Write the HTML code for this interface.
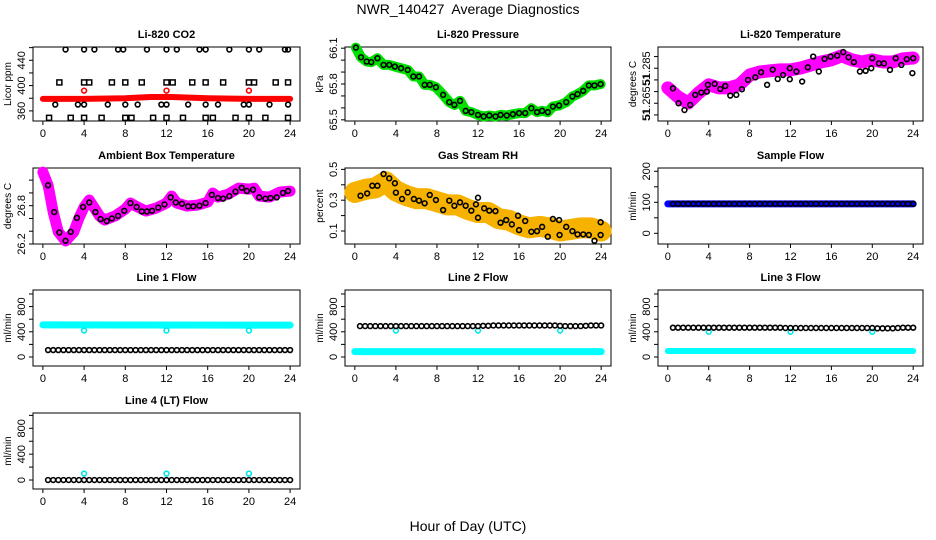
<!DOCTYPE html>
<html><head><meta charset="utf-8">
<style>
html,body{margin:0;padding:0;background:#fff;}
svg{display:block;font-family:"Liberation Sans",sans-serif;}
</style></head>
<body>
<svg id="chart" width="936" height="540" viewBox="0 0 936 540">
<text x="468" y="14" text-anchor="middle" font-size="14">NWR_140427&#160; Average Diagnostics</text>
<text x="468" y="531" text-anchor="middle" font-size="14">Hour of Day (UTC)</text>
</svg>
<script>
// ---- data ----
const xTicks = [0,4,8,12,16,20,24];
const halfHours = [0.5,1,1.5,2,2.5,3,3.5,4,4.5,5,5.5,6,6.5,7,7.5,8,8.5,9,9.5,10,10.5,11,11.5,12,12.5,13,13.5,14,14.5,15,15.5,16,16.5,17,17.5,18,18.5,19,19.5,20,20.5,21,21.5,22,22.5,23,23.5,24];
const calX = [4,12,20];

// CO2
const co2BandX = [0,4,8,10.5,12.5,16,20,24];
const co2BandY = [379,379,380,382,382,380,379,379];
const co2RedX = [4,12,20];
const co2RedY = [392,392,392];
const co2TopX = [2.2,4,5,7.3,7.8,10.1,12,13,15.2,15.8,18.1,20,21,23.5,23.8];
const co2TopY = [457,457,457,457,457,457,457,457,457,457,457,457,457,457,457];
const co2SqX = [1.6,4,4.5,6.7,8,9.6,12,12.6,14.5,15.8,17.5,20,20.5,22.6,23.8];
const co2SqY = [405,405,405,405,405,405,405,405,405,405,405,405,405,405,405];
const co2MidX = [1.2,3.4,4,6.3,8,9.2,11.5,12,14.1,15.8,17,19.5,20,22,23.8];
const co2MidY = [370,370,370,370,370,370,370,370,370,370,370,370,370,370,370];
const co2LowX = [0.6,2.7,4,5.7,8,8.6,10.7,12,13.6,15.8,16.5,18.7,20,21.6,23.8];
const co2LowY = [349,349,349,349,349,349,349,349,349,349,349,349,349,349,349];

// Pressure
const presX = [0.1,0.6,1.15,1.6,2.2,2.8,3.35,3.9,4.5,5.15,5.7,6.25,6.8,7.3,7.9,8.6,9.2,9.7,10.25,10.8,11.35,12,12.55,13.1,13.7,14.2,14.8,15.4,16,16.6,17.2,17.75,18.25,18.8,19.3,19.9,20.6,21.2,21.7,22.25,22.8,23.35,23.95];
const presY = [66.105,66.024,65.988,65.983,66.016,65.96,65.96,65.946,65.932,65.918,65.863,65.863,65.793,65.793,65.773,65.709,65.648,65.625,65.659,65.575,65.564,65.541,65.528,65.536,65.528,65.541,65.536,65.547,65.556,65.556,65.597,65.564,65.575,65.564,65.611,65.62,65.648,65.695,65.715,65.743,65.788,65.788,65.799];

// Li-820 temperature
const tBandX = [0,1,2,3,4,5,6,7,8,9,10,11,12,13,14,15,16,17,18,19,20,21,22,23,24];
const tBandY = [51.2716,51.2677,51.2651,51.2694,51.2729,51.2716,51.2716,51.2729,51.2771,51.2784,51.2789,51.2793,51.2793,51.2801,51.2814,51.2827,51.2836,51.2853,51.2836,51.2827,51.2836,51.2827,51.2827,51.284,51.2844];
const tPtX = [0.5,1.05,1.63,2.19,2.68,3.27,3.82,3.92,4.58,5.13,5.62,6.11,6.7,7.25,7.84,8.56,9.12,9.71,10.26,10.75,11.27,11.93,11.93,12.58,13.14,13.69,14.22,14.77,15.33,15.92,16.57,17.16,17.68,18.2,18.79,19.35,19.9,20,20.65,21.14,21.73,22.29,22.84,23.37,23.92,24];
const tPtY = [51.2714,51.265,51.2621,51.2643,51.2686,51.2696,51.27,51.2729,51.2733,51.2711,51.2724,51.2683,51.2686,51.271,51.275,51.2761,51.2783,51.2729,51.2794,51.2754,51.2771,51.28,51.2753,51.2786,51.2743,51.2804,51.285,51.2786,51.284,51.285,51.2854,51.2869,51.2847,51.2826,51.2786,51.2789,51.28,51.2843,51.2821,51.2821,51.2793,51.2843,51.2814,51.2839,51.2779,51.2843];

// Ambient box temperature
const aBandX = [0,0.5,1,1.5,2.2,3,3.5,4,4.5,5,5.5,6,7,8,8.5,9,10,11,12,12.5,13,14,15,16,16.5,17,18,19,20,20.5,21,22,23,24];
const aBandY = [27.325,27.122,26.7,26.388,26.247,26.388,26.606,26.778,26.888,26.763,26.638,26.575,26.638,26.747,26.841,26.794,26.716,26.763,26.841,26.95,26.841,26.794,26.809,26.856,26.997,26.934,26.981,27.075,27.059,27.075,26.95,26.934,27.013,27.028];
const aPtX = [0.5,1.1,1.6,2.2,2.7,3.3,3.9,4.5,5.1,5.6,6.2,6.7,7.3,7.9,8.5,9.1,9.6,10.1,10.6,11.2,11.8,12.4,12.9,13.5,14.1,14.6,15.2,15.8,16.4,17,17.5,18.1,18.7,19.3,19.8,20.4,21,21.6,22.1,22.7,23.3,23.8];
const aPtY = [27.12,26.7,26.38,26.25,26.39,26.61,26.78,26.85,26.7,26.59,26.56,26.6,26.64,26.72,26.84,26.78,26.71,26.71,26.72,26.77,26.82,26.93,26.85,26.83,26.79,26.79,26.8,26.84,26.97,26.92,26.91,26.95,27.02,27.08,27.03,27.05,26.93,26.91,26.92,26.93,27.0,27.03];

// Gas stream RH
const rhBandX = [0,1,2,3,4,5,6,7,8,9,10,11,12,13,14,15,16,17,18,19,20,21,22,23,24];
const rhBandY = [0.35,0.37,0.38,0.42,0.36,0.33,0.31,0.31,0.29,0.27,0.27,0.24,0.22,0.22,0.18,0.17,0.14,0.12,0.13,0.12,0.1,0.11,0.12,0.12,0.1];
const rhPtX = [0.55,1.2,1.7,2.2,2.8,3.35,3.9,4,4.6,5.15,5.75,6.25,6.8,7.3,7.9,8.6,9.2,9.7,10.25,10.8,11.35,11.8,12,12,12.6,13.1,13.7,14.2,14.75,15.3,15.9,16,16.6,17.2,17.75,18.25,18.8,19.3,19.9,19.95,20.6,21.2,21.7,22.25,22.8,23.35,23.95,23.95];
const rhPtY = [0.329,0.344,0.394,0.394,0.47,0.442,0.41,0.349,0.308,0.351,0.308,0.297,0.28,0.334,0.301,0.236,0.297,0.264,0.286,0.264,0.232,0.273,0.316,0.186,0.247,0.232,0.229,0.154,0.171,0.143,0.199,0.106,0.165,0.095,0.099,0.127,0.063,0.178,0.171,0.074,0.127,0.099,0.078,0.078,0.074,0.037,0.157,0.074];

// Sample flow
const sfBandX = [0,24];
const sfBandY = [95,95];
const sfPts = [95,95,95,95,95,95,95,95,95,95,95,95,95,95,95,95,95,95,95,95,95,95,95,95,95,95,95,95,95,95,95,95,95,95,95,95,95,95,95,95,95,95,95,95,95,95,95,95];

// Line flows
const l1BandX = [0,24]; const l1BandY = [510,505];
const l1Pts = [110,110,110,110,110,110,110,110,110,110,110,110,110,110,110,110,110,110,110,110,110,110,110,110,110,110,110,110,110,110,110,110,110,110,110,110,110,110,110,110,110,110,110,110,110,110,110,110];
const l1Cal = [420,420,420];
const l2BandX = [0,24]; const l2BandY = [85,85];
const l2Pts = [490,490,490,490,490,490,490,490,490,490,490,490,490,490,490,490,490,490,490,490,490,490,490,490,495,495,500,500,500,500,500,500,500,500,500,500,500,500,500,495,490,490,490,490,495,500,500,500];
const l2Cal = [420,420,420];
const l3BandX = [0,24]; const l3BandY = [95,95];
const l3Pts = [465,465,465,465,465,465,465,465,465,465,465,465,465,465,465,465,465,465,465,465,465,465,460,460,460,460,460,460,460,460,460,460,460,460,460,460,460,460,460,460,455,455,455,455,460,465,465,465];
const l3Cal = [400,400,400];
const l4Pts = [0,0,0,0,0,0,0,0,0,0,0,0,0,0,0,0,0,0,0,0,0,0,0,0,0,0,0,0,0,0,0,0,0,0,0,0,0,0,0,0,0,0,0,0,0,0,0,0];
const l4Cal = [100,100,100];

// ---- rendering ----
const NS = "http://www.w3.org/2000/svg";
const svg = document.getElementById('chart');
function el(tag, attrs, parent){ const e=document.createElementNS(NS,tag); for(const k in attrs) e.setAttribute(k,attrs[k]); (parent||svg).appendChild(e); return e; }

const cols = [{l:33,r:300},{l:345,r:611},{l:658,r:923}];
const rows = [{t:47,b:121},{t:168,b:244},{t:290,b:366},{t:413,b:489}];

function makePanel(o){
  const c=cols[o.col], r=rows[o.row];
  const g=el('g',{});
  
  
  const xs=v=>c.l+(v+0.96)/25.92*(c.r-c.l);
  const ys=v=>r.b-(v-o.ymin)/(o.ymax-o.ymin)*(r.b-r.t);
  const t=el('text',{x:(c.l+c.r)/2,y:r.t-9,'text-anchor':'middle','font-size':11,'font-weight':'bold'},g);
  t.textContent=o.title;
  
  
  const box=el('rect',{x:c.l,y:r.t,width:c.r-c.l,height:r.b-r.t,fill:'none',stroke:'#000','stroke-width':1},g);
  
  
  const xa=el('g',{},g);
  
  
  el('line',{x1:xs(xTicks[0]),x2:xs(xTicks[xTicks.length-1]),y1:r.b,y2:r.b,stroke:'#000'},xa);
  xTicks.forEach(v=>{
    el('line',{x1:xs(v),x2:xs(v),y1:r.b,y2:r.b+4,stroke:'#000'},xa);
    const tl=el('text',{x:xs(v),y:r.b+16,'text-anchor':'middle','font-size':11},xa);
    tl.textContent=v;
    
    
  });
  const ya=el('g',{},g);
  
  
  el('line',{x1:c.l,x2:c.l,y1:ys(o.yt[0]),y2:ys(o.yt[o.yt.length-1]),stroke:'#000'},ya);
  o.yt.forEach((v,i)=>{
    el('line',{x1:c.l-4,x2:c.l,y1:ys(v),y2:ys(v),stroke:'#000'},ya);
    if(o.yl[i]){
      const tl=el('text',{x:c.l-8,y:ys(v),'text-anchor':'middle','font-size':11,transform:`rotate(-90 ${c.l-8} ${ys(v)})`},ya);
      tl.textContent=o.yl[i];
      
      
    }
  });
  const yt=el('text',{x:c.l-22,y:(r.t+r.b)/2,'text-anchor':'middle','font-size':10,transform:`rotate(-90 ${c.l-22} ${(r.t+r.b)/2})`},g);
  yt.textContent=o.ylab;
  
  
  return {g,xs,ys};
}
function band(p,X,Y,color,w,name){
  const pl=el('polyline',{points:X.map((x,i)=>p.xs(x)+','+p.ys(Y[i])).join(' '),fill:'none',stroke:color,'stroke-width':w,'stroke-linejoin':'round','stroke-linecap':'round'},p.g);
  
  
}
function pts(p,X,Y,color,name,rad,sq){
  const g=el('g',{},p.g);
  
  
  X.forEach((x,i)=>{
    if(sq){ el('rect',{x:p.xs(x)-2.5,y:p.ys(Y[i])-2.5,width:5,height:5,fill:'none',stroke:color,'stroke-width':1.5},g); }
    else el('circle',{cx:p.xs(x),cy:p.ys(Y[i]),r:rad||2.4,fill:'none',stroke:color,'stroke-width':1.6},g);
  });
}

let p=makePanel({col:0,row:0,name:'co2-panel',title:'Li-820 CO2',ylab:'Licor ppm',ymin:344,ymax:461,yt:[360,380,400,420,440,460],yl:['360','','400','','440','']});
band(p,co2BandX,co2BandY,'#ff0000',6,'co2-band');
pts(p,co2RedX,co2RedY,'#ff0000','co2-cal-points');
pts(p,co2TopX,co2TopY,'#000','co2-high-points');
pts(p,co2SqX,co2SqY,'#000','co2-square-points',0,true);
pts(p,co2MidX,co2MidY,'#000','co2-mid-points');
pts(p,co2LowX,co2LowY,'#000','co2-low-points',0,true);

p=makePanel({col:1,row:0,name:'pressure-panel',title:'Li-820 Pressure',ylab:'kPa',ymin:65.49,ymax:66.11,yt:[65.5,65.6,65.7,65.8,65.9,66.0,66.1],yl:['65.5','','','65.8','','','66.1']});
band(p,presX,presY,'#00e000',10,'pressure-band');
pts(p,presX,presY,'#000','pressure-points');

p=makePanel({col:2,row:0,name:'li820-temperature-panel',title:'Li-820 Temperature',ylab:'degrees C',ymin:51.2574,ymax:51.2891,yt:[51.26,51.265,51.27,51.275,51.28,51.285],yl:['51','51.265','','51','51.285','']});
band(p,tBandX,tBandY,'#ff00ff',13,'temperature-band');
pts(p,tPtX,tPtY,'#000','temperature-points');

p=makePanel({col:0,row:1,name:'ambient-temperature-panel',title:'Ambient Box Temperature',ylab:'degrees C',ymin:26.2,ymax:27.39,yt:[26.2,26.4,26.6,26.8,27.0,27.2],yl:['26.2','','','26.8','','']});
band(p,aBandX,aBandY,'#ff00ff',11,'ambient-band');
pts(p,aPtX,aPtY,'#000','ambient-points');

p=makePanel({col:1,row:1,name:'rh-panel',title:'Gas Stream RH',ylab:'percent',ymin:0.0156,ymax:0.509,yt:[0.1,0.2,0.3,0.4,0.5],yl:['0.1','','0.3','','0.5']});
band(p,rhBandX,rhBandY,'#f7b200',21,'rh-band');
pts(p,rhPtX,rhPtY,'#000','rh-points');

p=makePanel({col:2,row:1,name:'sample-flow-panel',title:'Sample Flow',ylab:'ml/min',ymin:-34.5,ymax:210.6,yt:[0,50,100,150,200],yl:['0','','100','','200']});
band(p,sfBandX,sfBandY,'#0000ff',7,'sample-flow-band');
pts(p,halfHours,sfPts,'#000','sample-flow-points');

const flowY={yt:[0,200,400,600,800,1000],yl:['0','','400','','800','']};
p=makePanel(Object.assign({col:0,row:2,name:'line1-flow-panel',title:'Line 1 Flow',ylab:'ml/min',ymin:-143,ymax:1063},flowY));
band(p,l1BandX,l1BandY,'#00ffff',7,'line1-cyan-band');
pts(p,calX,l1Cal,'#00e8e8','line1-cal-points');
pts(p,halfHours,l1Pts,'#000','line1-points');
p=makePanel(Object.assign({col:1,row:2,name:'line2-flow-panel',title:'Line 2 Flow',ylab:'ml/min',ymin:-143,ymax:1063},flowY));
band(p,l2BandX,l2BandY,'#00ffff',7,'line2-cyan-band');
pts(p,calX,l2Cal,'#00e8e8','line2-cal-points');
pts(p,halfHours,l2Pts,'#000','line2-points');
p=makePanel(Object.assign({col:2,row:2,name:'line3-flow-panel',title:'Line 3 Flow',ylab:'ml/min',ymin:-143,ymax:1063},flowY));
band(p,l3BandX,l3BandY,'#00ffff',6,'line3-cyan-band');
pts(p,calX,l3Cal,'#00e8e8','line3-cal-points');
pts(p,halfHours,l3Pts,'#000','line3-points');
p=makePanel(Object.assign({col:0,row:3,name:'line4-flow-panel',title:'Line 4 (LT) Flow',ylab:'ml/min',ymin:-139,ymax:1037},flowY));
pts(p,calX,l4Cal,'#00e8e8','line4-cal-points');
pts(p,halfHours,l4Pts,'#000','line4-points');
</script>
</body></html>
